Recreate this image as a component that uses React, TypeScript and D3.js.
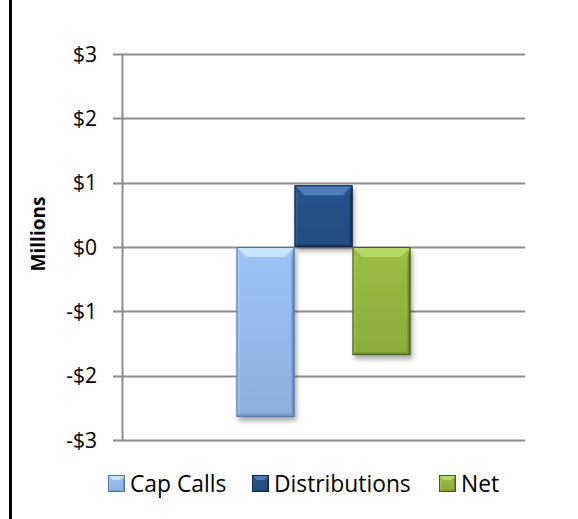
import React, { useEffect, useRef } from 'react';
import * as d3 from 'd3';

const categories = ['Flows'];
const seriesNames = ['Cap Calls', 'Distributions', 'Net'];
const seriesValues = [-2.64, 0.96, -1.68];
const yTicks = [-3, -2, -1, 0, 1, 2, 3];

const palette = [
  { base: '#95b9ea', light: '#c9e3ff', dark: '#7095c8', line: '#55729e' },
  { base: '#255086', light: '#4d7cb8', dark: '#1a3a64', line: '#0f2240' },
  { base: '#93b43f', light: '#b8d766', dark: '#6f8b2c', line: '#46591b' },
];

export default function App() {
  const ref = useRef<SVGSVGElement>(null);

  useEffect(() => {
    const svg = d3.select(ref.current);
    svg.selectAll('*').remove();

    const W = 578, H = 519;
    const left = 122, right = 525, top = 54, bottom = 440;
    const font = '"Open Sans", sans-serif';

    const defs = svg.append('defs');
    const blur = defs.append('filter').attr('id', 'shadow').attr('x', '-20%').attr('y', '-20%').attr('width', '140%').attr('height', '140%');
    blur.append('feGaussianBlur').attr('stdDeviation', 2.5);

    palette.forEach((p, i) => {
      const g = defs.append('linearGradient').attr('id', 'grad' + i).attr('x1', 0).attr('y1', 0).attr('x2', 0).attr('y2', 1);
      g.append('stop').attr('offset', '0%').attr('stop-color', d3.color(p.base)!.brighter(0.15).toString());
      g.append('stop').attr('offset', '100%').attr('stop-color', d3.color(p.base)!.darker(0.15).toString());
    });

    svg.append('rect').attr('width', W).attr('height', H).attr('fill', 'white');
    // left border of the chart frame
    svg.append('line').attr('x1', 10.5).attr('x2', 10.5).attr('y1', 0).attr('y2', H)
      .attr('stroke', 'black').attr('stroke-width', 3);

    const y = d3.scaleLinear().domain([-3, 3]).range([bottom, top]);
    const x0 = d3.scaleBand().domain(categories).range([left, right]).paddingInner(0).paddingOuter(0.658);
    const x1 = d3.scaleBand().domain(seriesNames).range([0, x0.bandwidth()]).padding(0);

    // gridlines
    svg.append('g').selectAll('line').data(yTicks).join('line')
      .attr('x1', left - 9).attr('x2', right)
      .attr('y1', d => Math.round(y(d)) + 0.5).attr('y2', d => Math.round(y(d)) + 0.5)
      .attr('stroke', '#8c8c8c').attr('stroke-width', 2);

    // axis line
    svg.append('line').attr('x1', left + 0.5).attr('x2', left + 0.5).attr('y1', top).attr('y2', bottom)
      .attr('stroke', '#8c8c8c').attr('stroke-width', 2);

    // tick labels
    svg.append('g').selectAll('text').data(yTicks).join('text')
      .attr('x', 97).attr('y', d => y(d))
      .attr('dy', '0.36em').attr('text-anchor', 'end')
      .attr('font-family', font).attr('font-size', 21).attr('fill', '#000')
      .text(d => (d < 0 ? '-$' : '$') + Math.abs(d));

    // axis title
    svg.append('text')
      .attr('transform', `translate(45,${(top + bottom) / 2 - 13}) rotate(-90)`)
      .attr('text-anchor', 'middle').attr('font-family', font).attr('font-weight', 'bold')
      .attr('font-size', 19).text('Millions');

    const bevel = (g: any, bx: number, by: number, w: number, h: number, i: number, b: number, s: number, shadow: boolean) => {
      const p = palette[i];
      if (shadow) {
        g.append('rect').attr('x', bx + 2).attr('y', by + 4).attr('width', w).attr('height', h)
          .attr('fill', '#000').attr('opacity', 0.35).attr('filter', 'url(#shadow)');
      }
      g.append('rect').attr('x', bx).attr('y', by).attr('width', w).attr('height', h).attr('fill', `url(#grad${i})`);
      const poly = (pts: number[][], fill: string, op = 1) =>
        g.append('polygon').attr('points', pts.map(q => q.join(',')).join(' ')).attr('fill', fill).attr('opacity', op);
      poly([[bx, by], [bx + w, by], [bx + w - b, by + b], [bx + b, by + b]], p.light);
      poly([[bx + w, by], [bx + w, by + h], [bx + w - s, by + h - s], [bx + w - s, by + b]], p.dark);
      poly([[bx, by + h], [bx + w, by + h], [bx + w - s, by + h - s], [bx + s, by + h - s]], p.dark, 0.7);
      poly([[bx, by], [bx, by + h], [bx + s, by + h - s], [bx + s, by + b]], p.light, 0.35);
      g.append('rect').attr('x', bx + 0.5).attr('y', by + 0.5).attr('width', w - 1).attr('height', h - 1)
        .attr('fill', 'none').attr('stroke', p.line).attr('stroke-width', 1);
    };

    const bars = svg.append('g');
    categories.forEach(c => {
      seriesNames.forEach((s, i) => {
        const v = seriesValues[i];
        const bx = x0(c)! + x1(s)!;
        const y0 = y(Math.max(0, v));
        const h = Math.abs(y(v) - y(0));
        bevel(bars.append('g'), bx, y0, x1.bandwidth(), h, i, 10, 3, true);
      });
    });

    // legend
    const legendX = [108, 252, 439];
    const legend = svg.append('g');
    seriesNames.forEach((s, i) => {
      const g = legend.append('g');
      bevel(g, legendX[i], 475, 17, 17, i, 5, 2, false);
      g.append('text').attr('x', legendX[i] + 22).attr('y', 484).attr('dy', '0.36em')
        .attr('font-family', font).attr('font-size', 22.8).text(s);
    });
  }, []);

  return (
    <svg ref={ref} width={578} height={519} style={{ position: 'absolute', left: 0, top: 0 }} />
  );
}
